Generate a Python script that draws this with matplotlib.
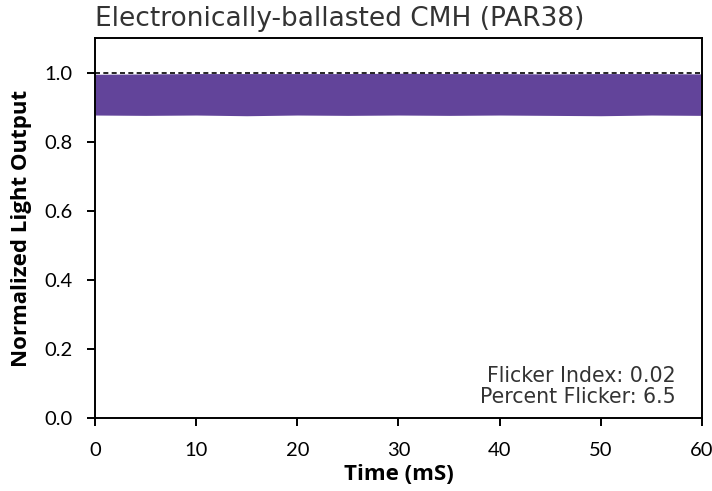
import numpy as np
import matplotlib
matplotlib.use("Agg")
import matplotlib.pyplot as plt

# envelope of the light output waveform
time_ms = [0, 5, 10, 15, 20, 25, 30, 35, 40, 45, 50, 55, 60]
upper = [0.995, 0.996, 0.997, 0.997, 0.997, 0.997, 0.998, 0.997, 0.997, 0.996, 0.997, 0.997, 0.996]
lower = [0.877, 0.876, 0.877, 0.875, 0.877, 0.876, 0.877, 0.876, 0.877, 0.876, 0.875, 0.877, 0.876]

title = "Electronically-ballasted CMH (PAR38)"
note = "Flicker Index: 0.02\nPercent Flicker: 6.5"
yticks = [0.0, 0.2, 0.4, 0.6, 0.8, 1.0]
xticks = [0, 10, 20, 30, 40, 50, 60]

fig = plt.figure(figsize=(7.12, 4.91), dpi=100)
ax = fig.add_axes([95 / 712, 1 - 418 / 491, 607 / 712, 380 / 491])

ax.fill_between(time_ms, lower, upper, color="#62449a", linewidth=0)
ax.axhline(1.0, color="black", linestyle=(0, (3, 2)), linewidth=1.2)

ax.set_xlim(0, 60)
ax.set_ylim(0, 1.1)
ax.set_xticks(xticks)
ax.set_yticks(yticks)
ax.set_yticklabels(["%.1f" % v for v in yticks])
ax.tick_params(direction="out", length=6, width=1.4, labelsize=14.5, colors="black")
ax.tick_params(axis="x", pad=11)
ax.tick_params(axis="y", pad=10)
for lab in ax.get_xticklabels() + ax.get_yticklabels():
    lab.set_family("Lato")
for s in ax.spines.values():
    s.set_linewidth(1.4)

ax.set_xlabel("Time (mS)", fontsize=16, fontweight="bold", family="Open Sans", labelpad=4)
ax.set_ylabel("Normalized Light Output", fontsize=16, fontweight="bold", family="Open Sans", labelpad=9)

fig.text(95 / 712, 1 - 19 / 491, title, fontsize=19, family="DejaVu Sans", color="#333333",
         ha="left", va="center")
ax.text(0.957, 0.028, note, transform=ax.transAxes, ha="right", va="bottom",
        fontsize=14.8, family="DejaVu Sans", color="#333333", linespacing=1.1)

fig.savefig("out.png", dpi=100)
